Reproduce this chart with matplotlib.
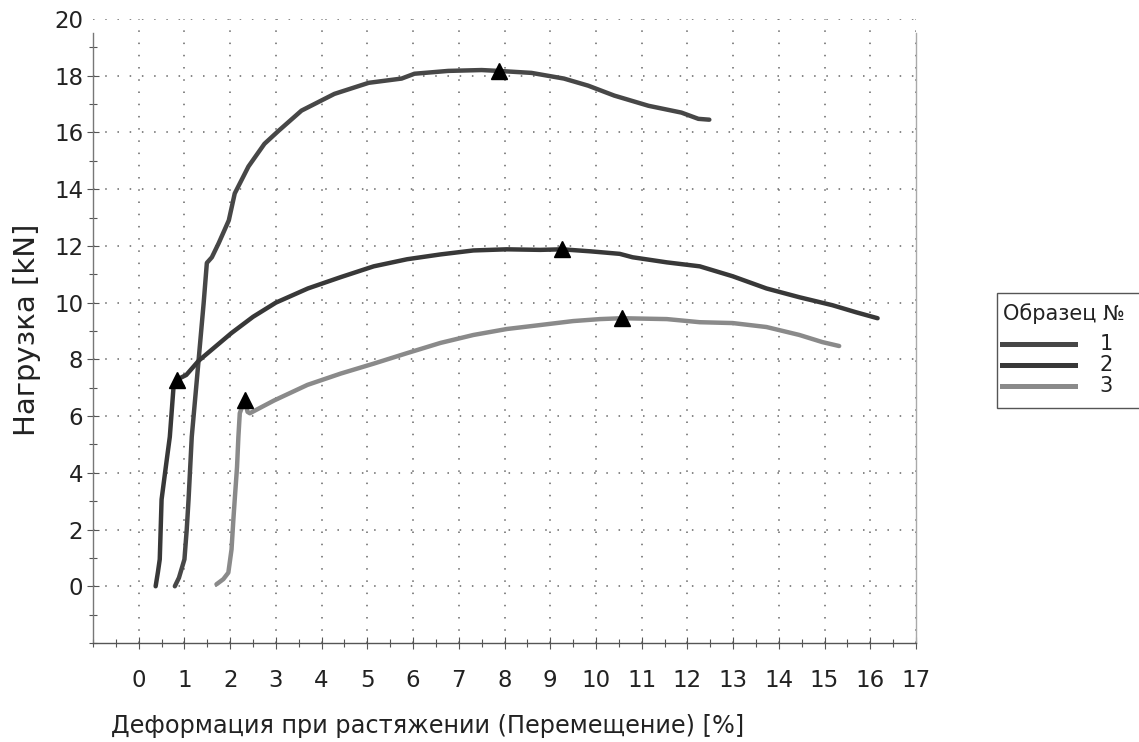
import matplotlib
matplotlib.use("Agg")
import matplotlib.pyplot as plt
from matplotlib.lines import Line2D
from matplotlib.patches import Rectangle
from matplotlib.ticker import MultipleLocator

plt.rcParams['font.family'] = ['DejaVu Sans']

# --- data ---
s1_x = [0.79, 0.88, 1.0, 1.05, 1.09, 1.16, 1.31, 1.42, 1.49, 1.6, 1.75, 1.97, 2.1, 2.4, 2.75, 3.06,
        3.56, 4.28, 5.03, 5.75, 6.03, 6.77, 7.5, 7.87, 8.59, 9.3, 9.83, 10.4, 11.15, 11.87, 12.24, 12.48]
s1_y = [0.0, 0.3, 0.95, 2.0, 3.06, 5.27, 7.98, 9.98, 11.4, 11.6, 12.1, 12.9, 13.85, 14.8, 15.6, 16.06,
        16.77, 17.36, 17.75, 17.9, 18.07, 18.17, 18.2, 18.17, 18.1, 17.9, 17.65, 17.3, 16.94, 16.7, 16.48, 16.45]

s2_x = [0.37, 0.42, 0.46, 0.5, 0.6, 0.68, 0.76, 0.83, 1.04, 1.31, 2.03, 2.5, 3.0, 3.7, 4.42, 5.14, 5.87,
        6.6, 7.32, 8.05, 8.78, 9.26, 9.87, 10.09, 10.52, 10.8, 11.55, 12.27, 12.99, 13.73, 14.45, 15.17,
        15.69, 16.16]
s2_y = [0.0, 0.5, 0.95, 3.06, 4.3, 5.27, 7.0, 7.28, 7.45, 7.95, 8.93, 9.5, 10.0, 10.5, 10.9, 11.28, 11.53,
        11.7, 11.84, 11.88, 11.86, 11.88, 11.81, 11.78, 11.72, 11.6, 11.42, 11.28, 10.93, 10.5, 10.19, 9.91,
        9.66, 9.45]

s3_x = [1.7, 1.85, 1.96, 2.03, 2.07, 2.1, 2.15, 2.18, 2.21, 2.3, 2.32, 2.38, 2.43, 2.96, 3.69, 4.42,
        5.14, 5.87, 6.6, 7.32, 8.05, 8.78, 9.5, 10.09, 10.57, 11.55, 12.27, 12.99, 13.73, 14.45, 14.95, 15.32]
s3_y = [0.07, 0.25, 0.48, 1.3, 2.35, 3.06, 4.2, 5.27, 6.1, 6.5, 6.57, 6.15, 6.1, 6.55, 7.1, 7.5,
        7.85, 8.22, 8.58, 8.86, 9.07, 9.21, 9.35, 9.42, 9.45, 9.42, 9.31, 9.28, 9.14, 8.86, 8.61, 8.47]

mark_x = [7.87, 0.83, 9.26, 2.32, 10.57]
mark_y = [18.17, 7.28, 11.88, 6.57, 9.45]

series_labels = ['1', '2', '3']
series_colors = ['#474747', '#383838', '#8a8a8a']
x_ticks = list(range(0, 18))
y_ticks = list(range(0, 21, 2))

W, H = 1139, 742
fig = plt.figure(figsize=(W / 100, H / 100), dpi=100)
ax = fig.add_axes([93 / W, 1 - 643 / H, (916 - 93) / W, (643 - 19) / H])

for xs, ys, c in zip([s1_x, s2_x, s3_x], [s1_y, s2_y, s3_y], series_colors):
    ax.plot(xs, ys, color=c, lw=3.2, solid_capstyle='round', solid_joinstyle='round', zorder=3)

ax.plot(mark_x, mark_y, linestyle='none', marker='^', color='black', markersize=11, zorder=4)

ax.set_xlim(-1, 17)
ax.set_ylim(-2, 20)
ax.set_xticks(x_ticks)
ax.set_xticklabels([str(v) for v in x_ticks])
ax.set_yticks(y_ticks)
ax.set_yticklabels([str(v) for v in y_ticks])
ax.xaxis.set_minor_locator(MultipleLocator(0.5))
ax.yaxis.set_minor_locator(MultipleLocator(1))

ax.tick_params(axis='both', which='both', direction='inout', color='#555555', width=0.8)
ax.tick_params(axis='both', which='major', length=8, labelsize=16.5, labelcolor='#222222')
ax.tick_params(axis='both', which='minor', length=6)
ax.tick_params(axis='x', which='major', pad=15)
ax.tick_params(axis='y', which='major', pad=3)
ax.yaxis.get_major_ticks()[-1].tick1line.set_visible(False)

ax.grid(True, which='major', color='#666666', linestyle=(0, (1, 7)), linewidth=1.1)
ax.spines['top'].set_visible(False)
ax.spines['left'].set_color('#777777')
ax.spines['bottom'].set_color('#555555')
ax.spines['right'].set_color('#aaaaaa')
ax.spines['left'].set_bounds(-2, 19.5)
ax.spines['right'].set_bounds(-2, 19.5)
for s in ['left', 'bottom', 'right']:
    ax.spines[s].set_linewidth(1.0)

fig.text(428 / W, 1 - 733 / H, 'Деформация при растяжении (Перемещение) [%]', fontsize=17.3,
         color='#222222', ha='center', va='baseline')
fig.text(27 / W, 1 - 330 / H, 'Нагрузка [kN]', fontsize=21, color='#222222',
         rotation=90, ha='center', va='center')

# legend (drawn in figure pixels)
fig.add_artist(Rectangle((997 / W, 1 - 408 / H), 160 / W, 115 / H, transform=fig.transFigure,
                         facecolor='white', edgecolor='#555555', lw=1.0))
fig.text(1003 / W, 1 - 314 / H, 'Образец №', fontsize=15, color='#222222', ha='left', va='center')
for lab, c, yy in zip(series_labels, series_colors, [344, 365, 386]):
    fig.add_artist(Line2D([1002 / W, 1075 / W], [1 - yy / H, 1 - yy / H], transform=fig.transFigure,
                          color=c, lw=3.6))
    fig.text(1106 / W, 1 - yy / H, lab, fontsize=15, color='#222222', ha='center', va='center')

fig.savefig('out.png', dpi=100)
